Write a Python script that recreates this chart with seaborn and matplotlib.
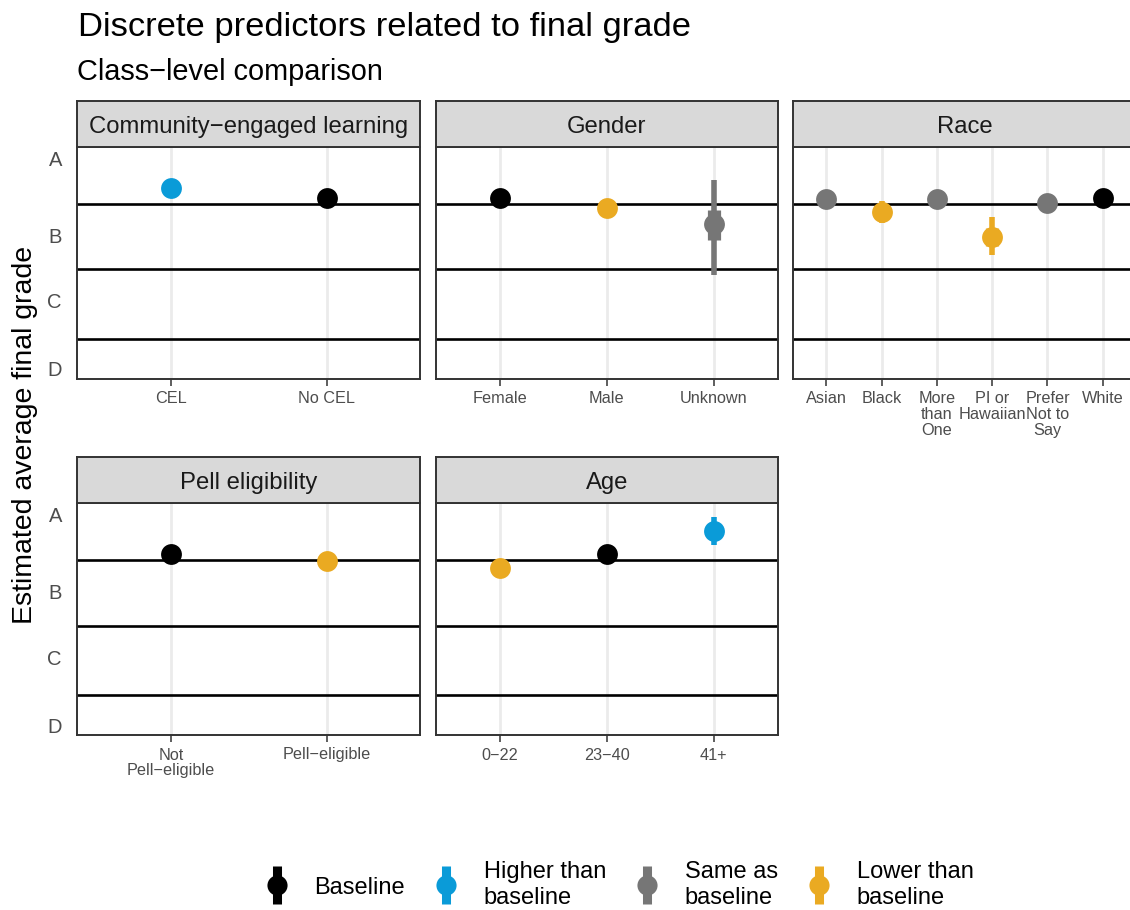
import numpy as np
import pandas as pd
import matplotlib
matplotlib.use('Agg')
import matplotlib.pyplot as plt
import seaborn as sns
from matplotlib.lines import Line2D
from matplotlib.legend_handler import HandlerTuple

# grade scale (percent points)
grade_labels = ['A', 'B', 'C', 'D']
grade_ticks = [96.8, 85.3, 75.6, 65.5]
grade_cutoffs = [90.0, 80.3, 70.0]
y_range = [64.06, 98.5]

status_order = ['Baseline', 'Higher than baseline', 'Same as baseline', 'Lower than baseline']
status_colors = ['#000000', '#0A9BD8', '#767676', '#EAAA22']
legend_labels = ['Baseline', 'Higher than\nbaseline', 'Same as\nbaseline', 'Lower than\nbaseline']

# Community-engaged learning
cel_levels = ['CEL', 'No CEL']
cel_est = [92.4, 90.9]
cel_status = ['Higher than baseline', 'Baseline']
cel_lo95 = [91.5, 90.3]
cel_hi95 = [93.3, 91.5]
cel_lo66 = [92.0, 90.6]
cel_hi66 = [92.8, 91.2]

# Gender
gender_levels = ['Female', 'Male', 'Unknown']
gender_est = [90.9, 89.45, 87.0]
gender_status = ['Baseline', 'Lower than baseline', 'Same as baseline']
gender_lo95 = [90.5, 88.8, 79.46]
gender_hi95 = [91.3, 90.1, 93.56]
gender_lo66 = [90.7, 89.1, 84.65]
gender_hi66 = [91.1, 89.8, 89.1]

# Race
race_levels = ['Asian', 'Black', 'More\nthan\nOne', 'PI or\nHawaiian', 'Prefer\nNot to\nSay', 'White']
race_est = [90.7, 88.77, 90.7, 85.15, 90.2, 90.9]
race_status = ['Same as baseline', 'Lower than baseline', 'Same as baseline',
               'Lower than baseline', 'Same as baseline', 'Baseline']
race_lo95 = [89.9, 87.1, 89.8, 82.43, 89.1, 90.7]
race_hi95 = [91.5, 90.4, 91.6, 88.07, 91.3, 91.1]
race_lo66 = [90.3, 88.0, 90.2, 83.8, 89.6, 90.8]
race_hi66 = [91.1, 89.5, 91.2, 86.5, 90.8, 91.0]

# Pell eligibility
pell_levels = ['Not\nPell−eligible', 'Pell−eligible']
pell_est = [90.9, 89.9]
pell_status = ['Baseline', 'Lower than baseline']
pell_lo95 = [90.5, 89.3]
pell_hi95 = [91.3, 90.5]
pell_lo66 = [90.7, 89.6]
pell_hi66 = [91.1, 90.2]

# Age
age_levels = ['0−22', '23−40', '41+']
age_est = [88.8, 90.9, 94.35]
age_status = ['Lower than baseline', 'Baseline', 'Higher than baseline']
age_lo95 = [88.2, 90.4, 92.33]
age_hi95 = [89.4, 91.4, 96.43]
age_lo66 = [88.5, 90.6, 93.4]
age_hi66 = [89.1, 91.2, 95.3]

panels = [
    ('Community−engaged learning', cel_levels, cel_est, cel_status, cel_lo95, cel_hi95, cel_lo66, cel_hi66),
    ('Gender', gender_levels, gender_est, gender_status, gender_lo95, gender_hi95, gender_lo66, gender_hi66),
    ('Race', race_levels, race_est, race_status, race_lo95, race_hi95, race_lo66, race_hi66),
    ('Pell eligibility', pell_levels, pell_est, pell_status, pell_lo95, pell_hi95, pell_lo66, pell_hi66),
    ('Age', age_levels, age_est, age_status, age_lo95, age_hi95, age_lo66, age_hi66),
]

sns.set_style('white')
plt.rcParams['font.family'] = ['Liberation Sans', 'DejaVu Sans']
plt.rcParams['text.color'] = 'black'

W, H = 1130, 910
fig = plt.figure(figsize=(W / 100, H / 100), dpi=100)

col_x = [(77.2, 420.3), (435.7, 778.0), (793.0, 1136.0)]
row_y = [(101.0, 146.7, 378.7), (457.0, 503.0, 735.0)]  # strip top, panel top, panel bottom

color_of = dict(zip(status_order, status_colors))
edge = '#333333'

for i, (title, levels, est, status, lo95, hi95, lo66, hi66) in enumerate(panels):
    r, c = divmod(i, 3)
    x0, x1 = col_x[c]
    st, pt, pb = row_y[r]
    ax = fig.add_axes([x0 / W, 1 - pb / H, (x1 - x0) / W, (pb - pt) / H])
    sax = fig.add_axes([x0 / W, 1 - pt / H, (x1 - x0) / W, (pt - st) / H])

    df = pd.DataFrame({'level': levels, 'est': est, 'status': status,
                       'lo95': lo95, 'hi95': hi95, 'lo66': lo66, 'hi66': hi66})
    pos = np.arange(len(levels))
    cols = [color_of[s] for s in df['status']]

    for yc in grade_cutoffs:
        ax.axhline(yc, color='black', lw=1.9, zorder=2)

    ax.vlines(pos, df['lo95'], df['hi95'], colors=cols, lw=4.0, zorder=3)
    ax.vlines(pos, df['lo66'], df['hi66'], colors=cols, lw=9.5, zorder=3)
    sns.stripplot(data=df, x='level', y='est', hue='status', order=levels,
                  hue_order=status_order, palette=status_colors, jitter=False,
                  size=15, linewidth=0, legend=False, ax=ax, zorder=4)

    ax.set_xlim(-0.6, len(levels) - 0.4)
    ax.set_ylim(*y_range)
    ax.set_yticks(grade_ticks)
    ax.set_yticklabels(grade_labels)
    ax.set_xlabel('')
    ax.set_ylabel('')
    ax.grid(axis='x', color='#EBEBEB', lw=2.0)
    ax.grid(axis='y', visible=False)
    ax.set_axisbelow(True)
    ax.tick_params(axis='x', length=5, width=1.1, color=edge, pad=4,
                   labelsize=11.7, labelcolor='#4D4D4D', bottom=True)
    ax.tick_params(axis='y', length=0, pad=11, labelsize=14.5, labelcolor='#4D4D4D',
                   labelleft=(c == 0))
    for lab in ax.get_xticklabels():
        lab.set_linespacing(1.08)
    for sp in ax.spines.values():
        sp.set_color(edge)
        sp.set_linewidth(1.4)

    sax.set_facecolor('#D9D9D9')
    sax.set_xticks([])
    sax.set_yticks([])
    for sp in sax.spines.values():
        sp.set_color(edge)
        sp.set_linewidth(1.4)
    sax.text(0.5, 0.31, title, ha='center', va='baseline', fontsize=17.2,
             color='#1A1A1A', transform=sax.transAxes)

fig.text(78 / W, 1 - 36 / H, 'Discrete predictors related to final grade',
         fontsize=24.8, va='baseline', ha='left')
fig.text(77 / W, 1 - 80 / H, 'Class−level comparison',
         fontsize=20.8, va='baseline', ha='left')
fig.text(25 / W, 1 - 435 / H, 'Estimated average final grade',
         fontsize=20.5, rotation=90, va='center', ha='center')

handles = []
for col in status_colors:
    bar = Line2D([], [], marker='|', markersize=28, markeredgewidth=6.5,
                 color=col, linestyle='none')
    dot = Line2D([], [], marker='o', markersize=14.5, markeredgewidth=0,
                 color=col, linestyle='none')
    handles.append((bar, dot))

fig.legend(handles, legend_labels, loc='center', bbox_to_anchor=(620 / W, 1 - 885 / H),
           ncol=4, frameon=False, fontsize=17, handlelength=0.9, handletextpad=1.13,
           columnspacing=1.3, handler_map={tuple: HandlerTuple(ndivide=1, pad=0)})

fig.savefig('out.png', dpi=100)
